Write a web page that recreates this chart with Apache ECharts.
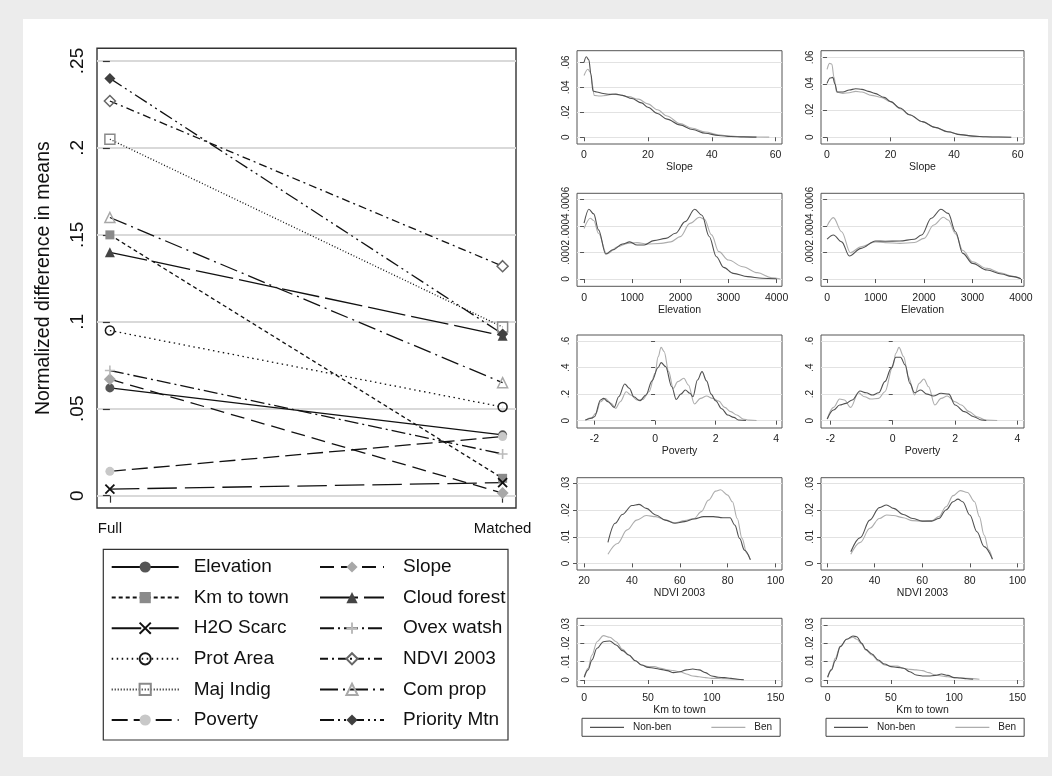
<!DOCTYPE html>
<html>
<head>
<meta charset="utf-8">
<script src="https://cdn.jsdelivr.net/npm/echarts@6/dist/echarts.min.js"></script>
<style>
  html, body { margin: 0; padding: 0; background: #ececec; }
  #chart { width: 1052px; height: 776px; }
</style>
</head>
<body>
<div id="chart"></div>
<script>
// ---------- Normalized differences: full vs matched sample ----------
const sampleLabels = ['Full', 'Matched'];
const covariates = ['Elevation', 'Km to town', 'H2O Scarc', 'Prot Area', 'Maj Indig', 'Poverty',
                    'Slope', 'Cloud forest', 'Ovex watsh', 'NDVI 2003', 'Com prop', 'Priority Mtn'];
const fullDiff    = [0.062, 0.150, 0.0038, 0.095, 0.205, 0.014, 0.067, 0.140, 0.072, 0.227, 0.160, 0.240];
const matchedDiff = [0.035, 0.010, 0.0075, 0.051, 0.097, 0.034, 0.0015, 0.092, 0.024, 0.132, 0.065, 0.093];
const diffTicks = [0, 0.05, 0.1, 0.15, 0.2, 0.25];

// ---------- Kernel densities, Non-beneficiaries vs Beneficiaries ----------
const groupNames = ['Non-ben', 'Ben'];

const slopeFullNonben = [[0,0.060],[0.7,0.0645],[1.5,0.062],[2.2,0.050],[2.8,0.037],[4,0.0362],[6,0.035],[8,0.0343],[10,0.0345],[12,0.0335],[15,0.031],[18,0.0275],[20,0.024],[23,0.019],[26,0.0145],[30,0.0099],[34,0.0062],[38,0.0032],[42,0.0014],[46,0.0006],[50,0.0003],[54,0.0001]];
const slopeFullBen    = [[0,0.0495],[1.2,0.0545],[2,0.052],[2.6,0.042],[3.2,0.0335],[5,0.033],[7,0.0335],[9,0.0345],[11,0.034],[14,0.0325],[17,0.0305],[20,0.0267],[23,0.022],[26,0.017],[30,0.011],[34,0.0072],[38,0.0042],[42,0.0020],[46,0.0009],[50,0.0004],[54,0.0002],[58,0.0001]];
const slopeMatchedNonben = [[0,0.0405],[1,0.0445],[1.8,0.045],[2.5,0.040],[3.2,0.034],[5,0.034],[7,0.0355],[9,0.0365],[11,0.036],[13,0.0345],[15,0.033],[18,0.030],[20,0.0268],[23,0.022],[26,0.017],[30,0.0118],[34,0.0075],[38,0.0042],[42,0.002],[46,0.0009],[50,0.0004],[54,0.0002],[58,0.0001]];
const slopeMatchedBen    = [[0,0.051],[0.8,0.0555],[1.5,0.055],[2.2,0.045],[3,0.034],[5,0.033],[7,0.0335],[9,0.0345],[11,0.034],[14,0.0315],[17,0.030],[20,0.0268],[23,0.0215],[26,0.0168],[30,0.0117],[34,0.0074],[38,0.0041],[42,0.002],[46,0.0009],[50,0.0004],[54,0.0002],[58,0.0001]];

const elevFullNonben = [[0,0.00042],[100,0.000525],[200,0.00049],[300,0.00037],[450,0.000188],[600,0.00022],[800,0.000264],[950,0.00028],[1100,0.000256],[1250,0.000256],[1450,0.000289],[1700,0.000306],[1900,0.000344],[2100,0.000432],[2300,0.000525],[2450,0.00048],[2600,0.00032],[2750,0.000168],[2900,0.000088],[3100,0.000043],[3400,0.000018],[3700,0.000006],[4000,0.000002]];
const elevFullBen    = [[0,0.00038],[130,0.000457],[200,0.00044],[300,0.000344],[470,0.000188],[700,0.000243],[900,0.000268],[1100,0.000274],[1300,0.000264],[1600,0.000268],[1800,0.00028],[2000,0.000319],[2200,0.000419],[2400,0.000465],[2500,0.00045],[2650,0.000332],[2800,0.000206],[3000,0.000143],[3300,0.000093],[3600,0.000048],[3900,0.00001],[4080,0.000001]];
const elevMatchedNonben = [[0,0.0003],[130,0.000331],[300,0.00028],[460,0.000173],[700,0.000231],[1000,0.000286],[1200,0.000284],[1500,0.000286],[1800,0.000299],[1950,0.000331],[2150,0.000457],[2350,0.000525],[2500,0.000494],[2650,0.000356],[2800,0.000193],[3000,0.000118],[3300,0.000068],[3600,0.000038],[3800,0.00002],[4000,0.000002]];
const elevMatchedBen    = [[0,0.0004],[130,0.000462],[300,0.000356],[480,0.000198],[700,0.000243],[1000,0.00028],[1200,0.000274],[1500,0.000268],[1800,0.000275],[2000,0.000306],[2200,0.000407],[2400,0.000465],[2500,0.000444],[2650,0.00034],[2800,0.000215],[3000,0.00013],[3300,0.00008],[3600,0.000045],[3800,0.000022],[4000,0.000002]];

const povFullNonben = [[-2.3,0.005],[-2.1,0.018],[-2.0,0.03],[-1.8,0.156],[-1.7,0.168],[-1.55,0.143],[-1.35,0.10],[-1.2,0.18],[-1.0,0.276],[-0.85,0.244],[-0.7,0.18],[-0.5,0.15],[-0.3,0.193],[-0.1,0.30],[0.1,0.40],[0.2,0.437],[0.35,0.407],[0.55,0.256],[0.7,0.16],[0.85,0.20],[1.0,0.231],[1.15,0.206],[1.25,0.18],[1.4,0.306],[1.55,0.369],[1.7,0.30],[1.85,0.20],[2.0,0.15],[2.2,0.09],[2.4,0.043],[2.6,0.025],[2.75,0.005],[3.0,0.002]];
const povFullBen    = [[-2.3,0.003],[-2.1,0.023],[-1.95,0.055],[-1.8,0.143],[-1.65,0.168],[-1.45,0.13],[-1.3,0.093],[-1.15,0.143],[-0.95,0.218],[-0.8,0.193],[-0.6,0.156],[-0.4,0.16],[-0.2,0.218],[0.0,0.356],[0.1,0.48],[0.2,0.552],[0.3,0.52],[0.45,0.369],[0.6,0.243],[0.75,0.294],[0.95,0.319],[1.1,0.269],[1.3,0.126],[1.5,0.168],[1.7,0.186],[1.9,0.168],[2.1,0.148],[2.3,0.10],[2.5,0.068],[2.7,0.043],[2.9,0.013],[3.1,0.004],[3.35,0.002]];
const povMatchedNonben = [[-2.1,0.013],[-1.9,0.08],[-1.7,0.118],[-1.5,0.13],[-1.3,0.156],[-1.05,0.223],[-0.85,0.21],[-0.65,0.193],[-0.45,0.21],[-0.25,0.294],[-0.05,0.394],[0.1,0.477],[0.25,0.477],[0.4,0.419],[0.55,0.281],[0.7,0.21],[0.9,0.231],[1.1,0.2],[1.3,0.186],[1.55,0.206],[1.8,0.2],[2.0,0.118],[2.3,0.068],[2.6,0.03],[2.85,0.005],[3.0,0.002]];
const povMatchedBen    = [[-2.1,0.013],[-1.9,0.1],[-1.7,0.163],[-1.55,0.156],[-1.35,0.1],[-1.1,0.21],[-0.9,0.18],[-0.7,0.163],[-0.45,0.168],[-0.25,0.218],[0.0,0.407],[0.1,0.507],[0.2,0.552],[0.35,0.482],[0.5,0.331],[0.7,0.193],[0.85,0.281],[1.0,0.314],[1.15,0.256],[1.35,0.118],[1.55,0.168],[1.75,0.186],[2.0,0.143],[2.2,0.118],[2.45,0.068],[2.7,0.03],[3.0,0.004],[3.35,0.002]];

const ndviFullNonben = [[30,0.0079],[33,0.0151],[36,0.0184],[40,0.0218],[43,0.0222],[46,0.0207],[50,0.0182],[54,0.0163],[58,0.0151],[62,0.0157],[66,0.0167],[70,0.0176],[74,0.0176],[78,0.0172],[81,0.0172],[83,0.0144],[85,0.0094],[87,0.005],[89.5,0.0013]];
const ndviFullBen    = [[30,0.0034],[34,0.0075],[38,0.0126],[42,0.0163],[46,0.018],[50,0.0176],[54,0.0163],[58,0.0153],[62,0.0161],[66,0.0169],[69,0.0195],[72,0.0238],[75,0.0272],[77,0.0277],[80,0.0257],[82,0.0232],[84,0.0169],[86,0.0094],[88,0.0038],[89.5,0.0015]];
const ndviMatchedNonben = [[30,0.0044],[34,0.0097],[38,0.0163],[42,0.021],[45,0.022],[48,0.0207],[52,0.0184],[56,0.0169],[60,0.0159],[64,0.0159],[67,0.0169],[70,0.0201],[73,0.0232],[75,0.0242],[77,0.0232],[80,0.0182],[83,0.0119],[86,0.0063],[89.5,0.0016]];
const ndviMatchedBen    = [[30,0.0034],[34,0.0079],[38,0.0132],[42,0.0169],[45,0.0182],[48,0.018],[52,0.0172],[56,0.0161],[60,0.0159],[64,0.0161],[67,0.0176],[70,0.0213],[73,0.0255],[76,0.0274],[79,0.0267],[82,0.0232],[84,0.0176],[86,0.0107],[88,0.005],[89.5,0.0015]];

const kmFullNonben = [[0,0.0015],[3,0.0055],[6,0.0109],[10,0.0173],[15,0.0209],[20,0.0213],[25,0.0191],[30,0.016],[35,0.0136],[40,0.0105],[45,0.0082],[50,0.0069],[55,0.0064],[60,0.0058],[65,0.0051],[70,0.004],[75,0.0045],[80,0.0055],[85,0.006],[90,0.0055],[95,0.004],[100,0.0022],[105,0.0015],[110,0.0013],[115,0.0009],[120,0.0004],[125,0.0001]];
const kmFullBen    = [[0,0.0015],[3,0.0064],[6,0.0136],[10,0.0209],[15,0.0242],[20,0.0233],[25,0.0209],[30,0.0167],[35,0.0135],[40,0.0105],[45,0.0082],[50,0.0073],[55,0.0073],[60,0.0064],[65,0.0055],[70,0.0051],[75,0.0045],[80,0.0033],[85,0.0022],[90,0.0018],[95,0.0013],[100,0.0009],[110,0.0007],[120,0.0004],[125,0.0001]];
const kmMatchedNonben = [[0,0.0015],[3,0.0055],[6,0.0105],[10,0.0182],[15,0.0222],[20,0.024],[23,0.0236],[27,0.02],[30,0.0167],[35,0.0142],[40,0.0109],[45,0.0087],[50,0.0073],[55,0.0069],[60,0.0064],[65,0.0045],[70,0.0027],[75,0.0022],[80,0.0022],[85,0.0025],[90,0.0033],[95,0.0025],[100,0.0013],[105,0.0011],[110,0.0007],[115,0.0004]];
const kmMatchedBen    = [[0,0.0015],[3,0.0058],[6,0.0118],[10,0.0185],[15,0.0222],[20,0.0233],[23,0.0222],[27,0.0195],[30,0.0164],[35,0.0136],[40,0.0104],[45,0.0082],[50,0.0076],[55,0.0076],[60,0.0064],[65,0.0058],[70,0.0055],[75,0.0051],[80,0.004],[85,0.0027],[90,0.0022],[95,0.0018],[100,0.0013],[110,0.0009],[120,0.0004]];

const slopeTicks = [0, 20, 40, 60],        slopeDensTicks = [0, 0.02, 0.04, 0.06];
const elevTicks  = [0, 1000, 2000, 3000, 4000], elevDensTicks = [0, 0.0002, 0.0004, 0.0006];
const povTicks   = [-2, 0, 2, 4],          povDensTicks = [0, 0.2, 0.4, 0.6];
const ndviTicks  = [20, 40, 60, 80, 100],  ndviDensTicks = [0, 0.01, 0.02, 0.03];
const kmTicks    = [0, 50, 100, 150],      kmDensTicks = [0, 0.01, 0.02, 0.03];

// ---------- styling ----------
const FONT = '"Liberation Sans", Arial, Helvetica, sans-serif';
const INK = '#111111';
const CROSS = 'path://M0,0L10,10M10,0L0,10';
const PLUS = 'path://M5,0L5,10M0,5L10,5';
const CLEAR = 'rgba(255,255,255,0)';

const covariateStyle = {
  'Elevation':    { symbol: 'circle',   size: 9,  fill: '#555555', stroke: '#555555', bw: 0,   dash: 'solid' },
  'Km to town':   { symbol: 'rect',     size: 9,  fill: '#8a8a8a', stroke: '#8a8a8a', bw: 0,   dash: [4, 3] },
  'H2O Scarc':    { symbol: CROSS,      size: 9,  fill: INK,       stroke: INK,       bw: 1.8, dash: [29.5, 8] },
  'Prot Area':    { symbol: 'circle',   size: 9,  fill: CLEAR,     stroke: '#1a1a1a', bw: 1.5, dash: [1.5, 3.5] },
  'Maj Indig':    { symbol: 'rect',     size: 10, fill: CLEAR,     stroke: '#8a8a8a', bw: 1.5, dash: [1, 2] },
  'Poverty':      { symbol: 'circle',   size: 9,  fill: '#c8c8c8', stroke: '#c8c8c8', bw: 0,   dash: [16, 6] },
  'Slope':        { symbol: 'diamond',  size: 12, fill: '#a8a8a8', stroke: '#a8a8a8', bw: 0,   dash: [14, 7] },
  'Cloud forest': { symbol: 'triangle', size: 10, fill: '#444444', stroke: '#444444', bw: 0,   dash: [38, 6] },
  'Ovex watsh':   { symbol: PLUS,       size: 10, fill: '#bbbbbb', stroke: '#bbbbbb', bw: 1.6, dash: [14, 4, 2, 4] },
  'NDVI 2003':    { symbol: 'diamond',  size: 11, fill: CLEAR,     stroke: '#666666', bw: 1.5, dash: [8, 4, 2, 4] },
  'Com prop':     { symbol: 'triangle', size: 10, fill: CLEAR,     stroke: '#a8a8a8', bw: 1.5, dash: [18, 5, 2, 5] },
  'Priority Mtn': { symbol: 'diamond',  size: 11, fill: '#404040', stroke: '#404040', bw: 0,   dash: [14, 4, 2, 4, 2, 4] }
};
const groupColor = { 'Non-ben': '#505050', 'Ben': '#adadad' };

function fmtTick(v) {
  if (v === 0) return '0';
  const s = String(parseFloat(Number(v).toPrecision(6)));
  return s.replace(/^(-?)0\./, '$1.');
}

// ---------- density panels (two columns: full sample, matched sample) ----------
const colBox = [ { l: 577, r: 782 }, { l: 821, r: 1024 } ];
const densityRows = [
  { name: 'Slope', xTicks: slopeTicks, yTicks: slopeDensTicks, top: 50.7, bottom: 144,
    cols: [ { x: [-2.2, 62.0], y: [-0.0054, 0.0693], data: [slopeFullNonben, slopeFullBen] },
            { x: [-1.9, 62.0], y: [-0.005, 0.065],   data: [slopeMatchedNonben, slopeMatchedBen] } ] },
  { name: 'Elevation', xTicks: elevTicks, yTicks: elevDensTicks, top: 193.3, bottom: 286.3,
    cols: [ { x: [-147, 4113], y: [-0.0000545, 0.000645], data: [elevFullNonben, elevFullBen] },
            { x: [-126, 4063], y: [-0.0000545, 0.000645], data: [elevMatchedNonben, elevMatchedBen] } ] },
  { name: 'Poverty', xTicks: povTicks, yTicks: povDensTicks, top: 335, bottom: 428,
    cols: [ { x: [-2.576, 4.19], y: [-0.055, 0.645], data: [povFullNonben, povFullBen] },
            { x: [-2.30, 4.21],  y: [-0.055, 0.645], data: [povMatchedNonben, povMatchedBen] } ] },
  { name: 'NDVI 2003', xTicks: ndviTicks, yTicks: ndviDensTicks, top: 477.7, bottom: 570,
    cols: [ { x: [17.07, 102.7], y: [-0.0025, 0.03226], data: [ndviFullNonben, ndviFullBen] },
            { x: [17.49, 102.76], y: [-0.0025, 0.03226], data: [ndviMatchedNonben, ndviMatchedBen] } ] },
  { name: 'Km to town', xTicks: kmTicks, yTicks: kmDensTicks, top: 618.3, bottom: 686.7,
    cols: [ { x: [-5.7, 155], y: [-0.00365, 0.03365], data: [kmFullNonben, kmFullBen] },
            { x: [-5.26, 155.2], y: [-0.00365, 0.03365], data: [kmMatchedNonben, kmMatchedBen] } ] }
];

const grids = [], xAxes = [], yAxes = [], series = [];

// main slope panel
grids.push({ left: 97, top: 48.3, width: 419, height: 459.7, show: true,
             borderColor: '#333333', borderWidth: 1.4, backgroundColor: '#ffffff',
             outerBoundsMode: 'none', containLabel: false });
xAxes.push({
  type: 'value', gridIndex: 0, min: -0.0328, max: 1.0341,
  axisLine: { show: false }, splitLine: { show: false },
  axisTick: { show: true, length: 7, customValues: [0, 1], lineStyle: { color: '#333', width: 1.2 } },
  axisLabel: { customValues: [0, 1], formatter: v => sampleLabels[Math.round(v)],
               fontSize: 15, margin: 13, color: INK, fontFamily: FONT }
});
yAxes.push({
  type: 'value', gridIndex: 0, min: -0.00707, max: 0.2573,
  name: 'Normalized difference in means', nameLocation: 'middle', nameGap: 43.5,
  nameTextStyle: { fontSize: 19.5, color: INK, fontFamily: FONT },
  axisLine: { show: false },
  axisTick: { show: true, length: 7, customValues: diffTicks, lineStyle: { color: '#333', width: 1.2 } },
  axisLabel: { customValues: diffTicks, rotate: 90, fontSize: 19, margin: 10, color: INK,
               fontFamily: FONT, formatter: fmtTick },
  splitLine: { show: true, lineStyle: { color: '#d9d9d9', width: 2 } }
});
covariates.forEach((name, i) => {
  const st = covariateStyle[name];
  series.push({
    type: 'line', name, xAxisIndex: 0, yAxisIndex: 0,
    data: [[0, fullDiff[i]], [1, matchedDiff[i]]],
    symbol: st.symbol, symbolSize: st.size, showAllSymbol: true, clip: false,
    lineStyle: { color: INK, width: 1.3, type: st.dash },
    itemStyle: { color: st.fill, borderColor: st.stroke, borderWidth: st.bw },
    emphasis: { disabled: true }, z: 3
  });
});

// small density panels
densityRows.forEach(row => {
  row.cols.forEach((c, ci) => {
    const gi = grids.length;
    const box = colBox[ci];
    grids.push({ left: box.l, top: row.top, width: box.r - box.l, height: row.bottom - row.top,
                 show: true, borderColor: '#555555', borderWidth: 1, backgroundColor: '#ffffff',
                 outerBoundsMode: 'none', containLabel: false });
    xAxes.push({
      type: 'value', gridIndex: gi, min: c.x[0], max: c.x[1],
      name: row.name, nameLocation: 'middle', nameGap: 16,
      nameTextStyle: { fontSize: 10.5, color: '#222', fontFamily: FONT },
      axisLine: { show: false }, splitLine: { show: false },
      axisTick: { show: true, length: 4, customValues: row.xTicks, lineStyle: { color: '#555', width: 1 } },
      axisLabel: { customValues: row.xTicks, fontSize: 10.5, margin: 6, color: '#222',
                   fontFamily: FONT, formatter: fmtTick }
    });
    yAxes.push({
      type: 'value', gridIndex: gi, min: c.y[0], max: c.y[1],
      axisLine: { show: false },
      axisTick: { show: true, length: 4, customValues: row.yTicks, lineStyle: { color: '#555', width: 1 } },
      axisLabel: { customValues: row.yTicks, rotate: 90, fontSize: 10, margin: 6, color: '#222',
                   fontFamily: FONT, formatter: fmtTick },
      splitLine: { show: true, lineStyle: { color: '#e2e2e2', width: 1 } }
    });
    groupNames.forEach((g, k) => {
      series.push({
        type: 'line', name: g, xAxisIndex: gi, yAxisIndex: gi,
        data: c.data[k], symbol: 'none', smooth: 0.35, smoothMonotone: 'x',
        lineStyle: { color: groupColor[g], width: 1.1 },
        itemStyle: { color: groupColor[g] },
        emphasis: { disabled: true }, z: k === 0 ? 3 : 2
      });
    });
  });
});

const mainLegendBase = {
  orient: 'vertical', top: 557.5, padding: 0, itemHeight: 14, itemGap: 11.6,
  selectedMode: false
};
const legends = [
  Object.assign({}, mainLegendBase, {
    left: 110.7, itemWidth: 67, data: covariates.slice(0, 6),
    textStyle: { fontSize: 19, lineHeight: 19, color: INK, fontFamily: FONT, padding: [0, 0, 0, 10] }
  }),
  Object.assign({}, mainLegendBase, {
    left: 319, itemWidth: 64, data: covariates.slice(6),
    textStyle: { fontSize: 19, lineHeight: 19, color: INK, fontFamily: FONT, padding: [0, 0, 0, 14] }
  })
];
colBox.forEach(box => {
  legends.push({
    orient: 'horizontal', left: box.l + 5, top: 718.3, data: groupNames,
    padding: [4, 8], borderColor: '#444', borderWidth: 1, backgroundColor: '#ffffff',
    icon: 'rect', itemWidth: 34, itemHeight: 1.2, itemGap: 40, selectedMode: false,
    textStyle: { fontSize: 10, lineHeight: 10, color: '#222', fontFamily: FONT, padding: [0, 0, 0, 4] }
  });
});

const chart = echarts.init(document.getElementById('chart'), null, { renderer: 'canvas' });
chart.setOption({
  animation: false,
  backgroundColor: '#ececec',
  graphic: [
    { type: 'rect', z: -10, silent: true, shape: { x: 23, y: 19, width: 1025, height: 738 },
      style: { fill: '#ffffff' } },
    { type: 'rect', z: 5, silent: true, shape: { x: 103.3, y: 549.3, width: 404.7, height: 190.7 },
      style: { fill: 'none', stroke: '#333333', lineWidth: 1.2 } }
  ],
  grid: grids,
  xAxis: xAxes,
  yAxis: yAxes,
  legend: legends,
  series: series
});
</script>
</body>
</html>
